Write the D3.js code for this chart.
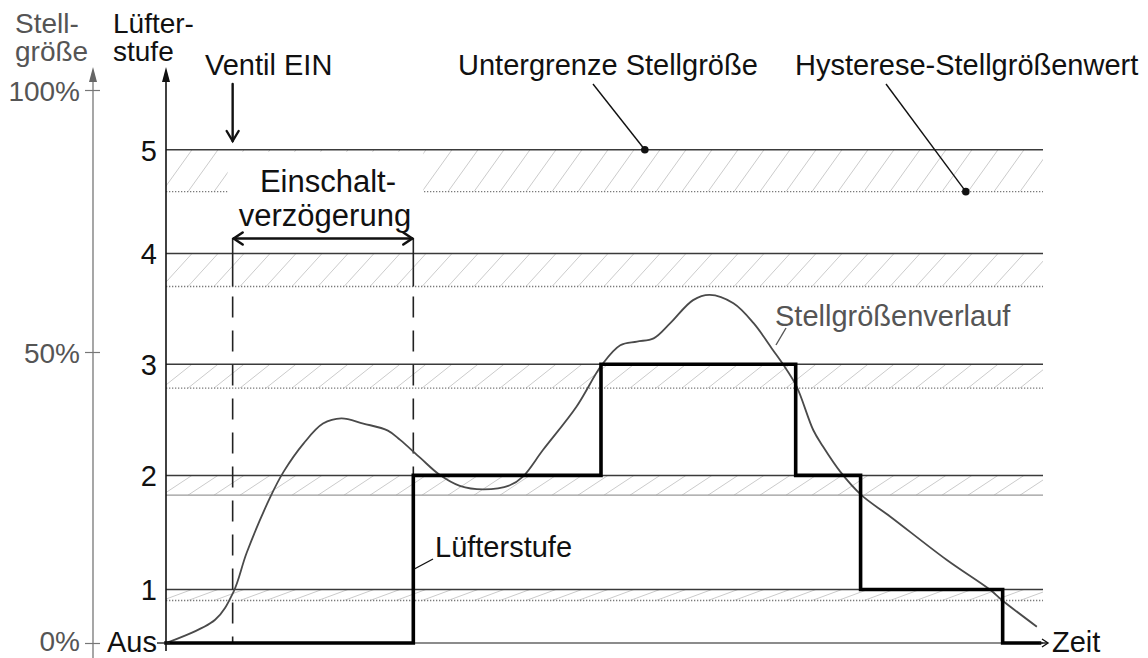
<!DOCTYPE html>
<html><head><meta charset="utf-8">
<script src="https://cdn.jsdelivr.net/npm/d3@7"></script>
<style>
html,body{margin:0;padding:0;background:#fff;}
svg{display:block;font-family:"Liberation Sans",Arial,Helvetica,sans-serif;}
</style></head><body>
<svg id="chart" width="1148" height="658"></svg>
<script>
// Lüfterstufen (Achsbeschriftung)
const stufenNamen = ["Aus", "1", "2", "3", "4", "5"];
// Untergrenze der Stellgröße je Stufe 1..5 (%)
const untergrenze = [9.2, 28.8, 47.9, 68.8, 88.6];
// Hysterese-Stellgrößenwert je Stufe 1..5 (%)
const hysterese = [7.3, 25.4, 43.8, 62.5, 80.6];
// Beschriftete Stellgrößen (%)
const prozentTicks = [0, 50, 100];

// Zeitpunkte (relative Zeit 0..100)
const ventilEin = 7.6;
const einschaltEnde = 28.2;

// Lüfterstufe über der Zeit (Stufenwechsel)
const stufenZeit = [0, 28.2, 49.6, 71.8, 79.2, 95.4, 99.6];
const stufenWert = [0, 2, 3, 2, 1, 0, 0];

// Stellgrößenverlauf über der Zeit
const verlaufZeit = [0, 5.6, 7.7, 9.2, 11.9, 13.4, 15.7, 17.9, 20.0, 22.5, 25.3, 26.7, 29.0, 31.2, 33.5, 36.2,
  39.2, 40.7, 43.0, 46.8, 49.7, 51.8, 53.7, 55.6, 57.5, 60.1, 62.0, 64.7, 67.0, 69.2, 70.4, 71.9, 73.8, 74.9,
  76.9, 79.3, 82.6, 89.0, 94.0, 95.3, 99.3];
const verlaufWert = [0, 4.0, 8.8, 15.5, 25.1, 29.4, 34.3, 37.7, 38.6, 37.7, 36.5, 34.9, 31.8, 28.9, 27.0, 26.4,
  27.1, 28.6, 33.2, 40.6, 47.8, 51.3, 52.0, 52.6, 55.5, 59.9, 60.9, 59.3, 55.5, 50.4, 47.8, 44.1, 36.6, 33.8,
  29.4, 25.4, 21.7, 14.3, 9.1, 7.4, 2.8];

// Hinweispunkte der Beschriftungen (Zeit)
const hinweisUntergrenze = 54.6;
const hinweisHysterese = 91.2;

const svg = d3.select("#chart");
const x = d3.scaleLinear().domain([0, 100]).range([166, 1043]);
const y = d3.scaleLinear().domain([0, 50, 100]).range([643, 352, 90]);
const stufeY = s => s === 0 ? y(0) : y(untergrenze[s - 1]);

const FONT = 29;
const grau = "#555";

// Hysteresebänder mit Schraffur
const defs = svg.append("defs");
const baender = svg.append("g");
untergrenze.forEach((u, i) => {
  const yTop = y(u), yBot = y(hysterese[i]);
  const id = "band" + i;
  defs.append("clipPath").attr("id", id).append("rect")
    .attr("x", x(0)).attr("y", yTop).attr("width", x(100) - x(0)).attr("height", yBot - yTop);
  const g = baender.append("g").attr("clip-path", `url(#${id})`);
  const lauf = 30, abstand = 26;
  for (let xx = x(0) - lauf; xx < x(100) + lauf; xx += abstand) {
    g.append("line").attr("x1", xx).attr("y1", yBot).attr("x2", xx + lauf).attr("y2", yTop)
      .attr("stroke", "#cbcbcb").attr("stroke-width", 1);
  }
  // Hysteresewert
  baender.append("line").attr("x1", x(0)).attr("x2", x(100)).attr("y1", yBot).attr("y2", yBot)
    .attr("stroke", i === 1 ? "#9a9a9a" : "#7a7a7a").attr("stroke-width", i === 1 ? 1.3 : 1.4)
    .attr("stroke-dasharray", i === 1 ? null : "1.3,1.7");
});

// Freifläche hinter "Einschaltverzögerung"
svg.append("rect")
  .attr("x", x(ventilEin) - 5).attr("y", y(untergrenze[4]) + 2)
  .attr("width", x(einschaltEnde) - x(ventilEin) + 15).attr("height", 82)
  .attr("fill", "#fff");

// Untergrenzen der Stufen
svg.append("g").selectAll("line").data(untergrenze).join("line")
  .attr("x1", x(0)).attr("x2", x(100)).attr("y1", d => y(d)).attr("y2", d => y(d))
  .attr("stroke", "#3a3a3a").attr("stroke-width", 1.5);

// Zeitachse (Aus)
svg.append("line").attr("x1", x(0)).attr("x2", x(100)).attr("y1", y(0)).attr("y2", y(0))
  .attr("stroke", "#666").attr("stroke-width", 1.4);

// Markierungen Ventil EIN / Ende der Einschaltverzögerung
[ventilEin, einschaltEnde].forEach(t => {
  svg.append("line").attr("x1", x(t)).attr("x2", x(t)).attr("y1", 238).attr("y2", y(hysterese[3]))
    .attr("stroke", "#222").attr("stroke-width", 1.6);
  svg.append("line").attr("x1", x(t)).attr("x2", x(t)).attr("y1", y(hysterese[3]) + 10).attr("y2", y(0))
    .attr("stroke", "#222").attr("stroke-width", 1.6).attr("stroke-dasharray", "21,13");
});

// Doppelpfeil Einschaltverzögerung
const ay = 238.5;
const pfeil = svg.append("g").attr("stroke", "#111").attr("stroke-width", 2.6).attr("fill", "none")
  .attr("stroke-linecap", "round").attr("stroke-linejoin", "round");
pfeil.append("line").attr("x1", x(ventilEin) + 1).attr("x2", x(einschaltEnde) - 1).attr("y1", ay).attr("y2", ay);
pfeil.append("path").attr("d", `M${x(ventilEin) + 10},${ay - 6}L${x(ventilEin) + 1},${ay}L${x(ventilEin) + 10},${ay + 6}`);
pfeil.append("path").attr("d", `M${x(einschaltEnde) - 10},${ay - 6}L${x(einschaltEnde) - 1},${ay}L${x(einschaltEnde) - 10},${ay + 6}`);

// Pfeil Ventil EIN
const vp = svg.append("g").attr("stroke", "#111").attr("stroke-width", 2.4).attr("fill", "none")
  .attr("stroke-linecap", "round");
vp.append("line").attr("x1", x(ventilEin)).attr("x2", x(ventilEin)).attr("y1", 84).attr("y2", 141);
vp.append("path").attr("d", `M${x(ventilEin) - 6},${131}L${x(ventilEin)},${141}L${x(ventilEin) + 6},${131}`);

// Stellgrößenverlauf
const verlauf = verlaufZeit.map((t, i) => [t, verlaufWert[i]]);
svg.append("path").datum(verlauf)
  .attr("d", d3.line().x(d => x(d[0])).y(d => y(d[1])).curve(d3.curveCatmullRom.alpha(0.5)))
  .attr("fill", "none").attr("stroke", "#4a4a4a").attr("stroke-width", 1.8);

// Lüfterstufe
const stufen = stufenZeit.map((t, i) => [t, stufenWert[i]]);
svg.append("path").datum(stufen)
  .attr("d", d3.line().x(d => x(d[0])).y(d => stufeY(d[1])).curve(d3.curveStepAfter))
  .attr("fill", "none").attr("stroke", "#000").attr("stroke-width", 3.6)
  .attr("stroke-linejoin", "miter").attr("stroke-linecap", "square");

// Zeitpfeil
const zEnd = x(100) + 5;
svg.append("line").attr("x1", x(stufenZeit[stufenZeit.length - 1])).attr("x2", zEnd).attr("y1", y(0)).attr("y2", y(0))
  .attr("stroke", "#111").attr("stroke-width", 1.4);
svg.append("path").attr("d", `M${zEnd - 6},${y(0) - 4}L${zEnd},${y(0)}L${zEnd - 6},${y(0) + 4}`)
  .attr("fill", "none").attr("stroke", "#111").attr("stroke-width", 1.4);
svg.append("text").attr("x", zEnd + 4).attr("y", y(0)).attr("dy", "0.3em")
  .attr("font-size", FONT).attr("fill", "#111").text("Zeit");

// Stellgrößenachse (links)
const axL = svg.append("g").attr("transform", "translate(93,0)")
  .call(d3.axisLeft(y).tickValues(prozentTicks).tickFormat(d => d + "%").tickSize(8).tickPadding(5));
axL.select(".domain").remove();
axL.selectAll(".tick line").attr("x1", 7).attr("stroke", "#777").attr("stroke-width", 1.2);
axL.selectAll(".tick text").attr("font-size", 28).attr("fill", grau)
  .attr("font-family", "'Liberation Sans', Arial, sans-serif").attr("dy", d => d === 0 ? "0.28em" : "0.36em");
svg.append("line").attr("x1", 93).attr("x2", 93).attr("y1", 78).attr("y2", 658)
  .attr("stroke", "#777").attr("stroke-width", 1.3);
svg.append("path").attr("d", "M93,67L89,82L97,82Z").attr("fill", "#666");

// Lüfterstufenachse
const stufenTicks = [0, ...untergrenze];
const axS = svg.append("g").attr("transform", `translate(${x(0)},0)`)
  .call(d3.axisLeft(y).tickValues(stufenTicks).tickFormat((d, i) => stufenNamen[i]).tickSize(0).tickPadding(9));
axS.select(".domain").remove();
axS.selectAll(".tick text").attr("font-size", FONT).attr("fill", "#111")
  .attr("font-family", "'Liberation Sans', Arial, sans-serif").attr("dy", d => d === 0 ? "0.28em" : "0.36em");
svg.append("line").attr("x1", x(0) - 9).attr("x2", x(0) + 4).attr("y1", y(0)).attr("y2", y(0))
  .attr("stroke", "#222").attr("stroke-width", 1.4);
svg.append("line").attr("x1", x(0)).attr("x2", x(0)).attr("y1", 78).attr("y2", 651)
  .attr("stroke", "#111").attr("stroke-width", 1.6);
svg.append("path").attr("d", `M${x(0)},67L${x(0) - 4},82L${x(0) + 4},82Z`).attr("fill", "#111");

// Achsentitel
const titel = (tx, ty, text, farbe, gr) => svg.append("text").attr("x", tx).attr("y", ty)
  .attr("font-size", gr || FONT).attr("fill", farbe).text(text);
titel(15, 33, "Stell-", grau, 28);
titel(15, 61, "größe", grau, 28);
titel(113, 33, "Lüfter-", "#111", 28);
titel(113, 61, "stufe", "#111", 28);

// Beschriftungen
titel(205, 75, "Ventil EIN", "#111");
titel(458, 75, "Untergrenze Stellgröße", "#111");
titel(795, 75, "Hysterese-Stellgrößenwert", "#111");

svg.append("text").attr("x", (x(ventilEin) + x(einschaltEnde)) / 2 + 5).attr("y", 192)
  .attr("text-anchor", "middle").attr("font-size", 31).attr("fill", "#111").text("Einschalt-");
svg.append("text").attr("x", (x(ventilEin) + x(einschaltEnde)) / 2 + 2).attr("y", 226)
  .attr("text-anchor", "middle").attr("font-size", 31).attr("fill", "#111").text("verzögerung");

// Hinweislinien mit Punkten
const hinweis = (x1, y1, px, py) => {
  svg.append("line").attr("x1", x1).attr("y1", y1).attr("x2", px).attr("y2", py)
    .attr("stroke", "#111").attr("stroke-width", 1.4);
  svg.append("circle").attr("cx", px).attr("cy", py).attr("r", 3.8).attr("fill", "#111");
};
hinweis(593, 84, x(hinweisUntergrenze), y(untergrenze[4]));
hinweis(886, 84, x(hinweisHysterese), y(hysterese[4]));

// Kurvenbeschriftungen
titel(775, 326, "Stellgrößenverlauf", grau);
svg.append("line").attr("x1", 786).attr("y1", 328).attr("x2", 776).attr("y2", 345)
  .attr("stroke", grau).attr("stroke-width", 1.4);
titel(435, 557, "Lüfterstufe", "#111");
svg.append("line").attr("x1", 433).attr("y1", 559).attr("x2", x(einschaltEnde) + 1).attr("y2", 569)
  .attr("stroke", "#111").attr("stroke-width", 1.4);
</script>
</body></html>
